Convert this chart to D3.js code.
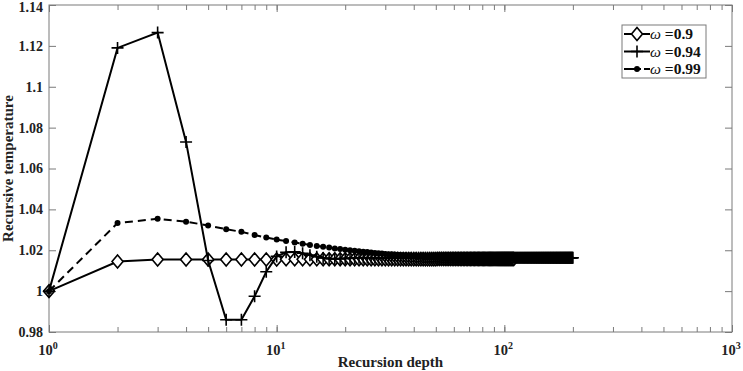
<!DOCTYPE html>
<html>
<head>
<meta charset="utf-8">
<script src="https://cdn.jsdelivr.net/npm/d3@7"></script>
<style>
  body { margin: 0; background: #fff; }
  svg { display: block; font-family: "Liberation Serif", "DejaVu Serif", serif; }
</style>
</head>
<body>
<svg id="chart" width="743" height="371"></svg>
<script>
// recursion depth is index + 1 for every series below
const w090 = [
  1.0000, 1.0145, 1.0155, 1.0155, 1.0155, 1.0155, 1.0155, 1.0155, 1.0155, 1.0155,
  1.0156, 1.0156, 1.0156, 1.0156, 1.0156, 1.0156, 1.0156, 1.0156, 1.0156, 1.0156,
  1.0156, 1.0156, 1.0156, 1.0156, 1.0156, 1.0156, 1.0156, 1.0156, 1.0156, 1.0156,
  1.0156, 1.0156, 1.0156, 1.0156, 1.0156, 1.0156, 1.0156, 1.0156, 1.0156, 1.0156,
  1.0156, 1.0156, 1.0156, 1.0156, 1.0156, 1.0156, 1.0156, 1.0156, 1.0156, 1.0156,
  1.0157, 1.0157, 1.0157, 1.0157, 1.0157, 1.0157, 1.0157, 1.0157, 1.0157, 1.0157,
  1.0157, 1.0157, 1.0157, 1.0157, 1.0157, 1.0157, 1.0157, 1.0157, 1.0157, 1.0157,
  1.0157, 1.0157, 1.0157, 1.0157, 1.0157, 1.0157, 1.0157, 1.0157, 1.0157, 1.0157,
  1.0157, 1.0157, 1.0157, 1.0157, 1.0157, 1.0157, 1.0157, 1.0157, 1.0157, 1.0157,
  1.0157, 1.0157, 1.0157, 1.0157, 1.0157, 1.0157, 1.0157, 1.0157, 1.0157, 1.0157,
  1.0157, 1.0157, 1.0157, 1.0157, 1.0157, 1.0157, 1.0157, 1.0157, 1.0157, 1.0157
];
const w094 = [
  1.0000, 1.1190, 1.1265, 1.0730, 1.0150, 0.9860, 0.9860, 0.9975, 1.0095, 1.0170,
  1.0190, 1.0192, 1.0185, 1.0176, 1.0168, 1.0162, 1.0159, 1.0158, 1.0159, 1.0160,
  1.0161, 1.0162, 1.0163, 1.0163, 1.0163, 1.0163, 1.0163, 1.0163, 1.0163, 1.0163,
  1.0163, 1.0163, 1.0163, 1.0163, 1.0163, 1.0163, 1.0163, 1.0163, 1.0163, 1.0163,
  1.0163, 1.0163, 1.0163, 1.0163, 1.0163, 1.0163, 1.0163, 1.0163, 1.0163, 1.0163,
  1.0163, 1.0163, 1.0163, 1.0163, 1.0163, 1.0163, 1.0163, 1.0163, 1.0163, 1.0163,
  1.0163, 1.0163, 1.0163, 1.0163, 1.0163, 1.0163, 1.0163, 1.0163, 1.0163, 1.0163,
  1.0163, 1.0163, 1.0163, 1.0163, 1.0163, 1.0163, 1.0163, 1.0163, 1.0163, 1.0163,
  1.0163, 1.0163, 1.0163, 1.0163, 1.0163, 1.0163, 1.0163, 1.0163, 1.0163, 1.0163,
  1.0163, 1.0163, 1.0163, 1.0163, 1.0163, 1.0163, 1.0163, 1.0163, 1.0163, 1.0163,
  1.0163, 1.0163, 1.0163, 1.0163, 1.0163, 1.0163, 1.0163, 1.0163, 1.0163, 1.0163,
  1.0163, 1.0163, 1.0163, 1.0163, 1.0163, 1.0163, 1.0163, 1.0163, 1.0163, 1.0163,
  1.0163, 1.0163, 1.0163, 1.0163, 1.0163, 1.0163, 1.0163, 1.0163, 1.0163, 1.0163,
  1.0163, 1.0163, 1.0163, 1.0163, 1.0163, 1.0163, 1.0163, 1.0163, 1.0163, 1.0163,
  1.0163, 1.0163, 1.0163, 1.0163, 1.0163, 1.0163, 1.0163, 1.0163, 1.0163, 1.0163,
  1.0163, 1.0163, 1.0163, 1.0163, 1.0163, 1.0163, 1.0163, 1.0163, 1.0163, 1.0163,
  1.0163, 1.0163, 1.0163, 1.0163, 1.0163, 1.0163, 1.0163, 1.0163, 1.0163, 1.0163,
  1.0163, 1.0163, 1.0163, 1.0163, 1.0163, 1.0163, 1.0163, 1.0163, 1.0163, 1.0163,
  1.0163, 1.0163, 1.0163, 1.0163, 1.0163, 1.0163, 1.0163, 1.0163, 1.0163, 1.0163,
  1.0163, 1.0163, 1.0163, 1.0163, 1.0163, 1.0163, 1.0163, 1.0163, 1.0163, 1.0163
];
const w099 = [
  1.0000, 1.0333, 1.0354, 1.0340, 1.0321, 1.0303, 1.0290, 1.0275, 1.0262, 1.0252,
  1.0245, 1.0238, 1.0232, 1.0226, 1.0221, 1.0217, 1.0213, 1.0209, 1.0206, 1.0203,
  1.0200, 1.0197, 1.0195, 1.0193, 1.0191, 1.0189, 1.0187, 1.0185, 1.0184, 1.0182,
  1.0181, 1.0180, 1.0179, 1.0178, 1.0177, 1.0176, 1.0175, 1.0174, 1.0174, 1.0173,
  1.0172, 1.0172, 1.0171, 1.0171, 1.0170, 1.0170, 1.0169, 1.0169, 1.0169, 1.0168,
  1.0168, 1.0168, 1.0167, 1.0167, 1.0167, 1.0167, 1.0166, 1.0166, 1.0166, 1.0166,
  1.0166, 1.0165, 1.0165, 1.0165, 1.0165, 1.0165, 1.0165, 1.0165, 1.0164, 1.0164,
  1.0164, 1.0164, 1.0164, 1.0164, 1.0164, 1.0164, 1.0164, 1.0164, 1.0164, 1.0164,
  1.0164, 1.0164, 1.0164, 1.0164, 1.0164, 1.0164, 1.0164, 1.0164, 1.0164, 1.0164,
  1.0164, 1.0164, 1.0164, 1.0164, 1.0164, 1.0164, 1.0164, 1.0164, 1.0164, 1.0164,
  1.0164, 1.0164, 1.0164, 1.0164, 1.0164, 1.0164, 1.0164, 1.0164, 1.0164, 1.0164,
  1.0164, 1.0164, 1.0164, 1.0164, 1.0164, 1.0164, 1.0164, 1.0164, 1.0164, 1.0164,
  1.0164, 1.0164, 1.0164, 1.0164, 1.0164, 1.0164, 1.0164, 1.0164, 1.0164, 1.0164,
  1.0164, 1.0164, 1.0164, 1.0164, 1.0164, 1.0164, 1.0164, 1.0164, 1.0164, 1.0164,
  1.0164, 1.0164, 1.0164, 1.0164, 1.0164, 1.0164, 1.0164, 1.0164, 1.0164, 1.0164,
  1.0164, 1.0164, 1.0164, 1.0164, 1.0164, 1.0164, 1.0164, 1.0164, 1.0164, 1.0164,
  1.0164, 1.0164, 1.0164, 1.0164, 1.0164, 1.0164, 1.0164, 1.0164, 1.0164, 1.0164,
  1.0164, 1.0164, 1.0164, 1.0164, 1.0164, 1.0164, 1.0164, 1.0164, 1.0164, 1.0164,
  1.0164, 1.0164, 1.0164, 1.0164, 1.0164, 1.0164, 1.0164, 1.0164, 1.0164, 1.0164,
  1.0164, 1.0164, 1.0164, 1.0164, 1.0164
];
const seriesNames = ["0.9", "0.94", "0.99"];
const yTicks = [0.98, 1, 1.02, 1.04, 1.06, 1.08, 1.1, 1.12, 1.14];
const xDecades = [1, 10, 100, 1000];

const plotL = 49, plotR = 732, plotT = 5, plotB = 332;
const axisColor = "#7a7a7a";

const svg = d3.select("#chart");

const x = d3.scaleLog().domain([1, 1000]).range([plotL, plotR]);
const y = d3.scaleLinear().domain([0.98, 1.14]).range([plotB, plotT]);

const series = [
  { name: seriesNames[0], values: w090, marker: "diamond", dash: null },
  { name: seriesNames[1], values: w094, marker: "plus", dash: null },
  { name: seriesNames[2], values: w099, marker: "dot", dash: "8,5" }
];

// axes box
svg.append("rect")
  .attr("x", plotL).attr("y", plotT)
  .attr("width", plotR - plotL).attr("height", plotB - plotT)
  .attr("fill", "none").attr("stroke", axisColor).attr("stroke-width", 1);

const minorX = x.ticks();

function styleAxis(g) {
  g.select(".domain").remove();
  g.selectAll(".tick line").attr("stroke", axisColor);
}

// bottom + top x ticks (inward)
svg.append("g")
  .attr("transform", `translate(0,${plotB})`)
  .call(d3.axisBottom(x).tickValues(minorX).tickSize(-5).tickFormat(""))
  .call(styleAxis);
svg.append("g")
  .attr("transform", `translate(0,${plotT})`)
  .call(d3.axisTop(x).tickValues(minorX).tickSize(-5).tickFormat(""))
  .call(styleAxis);
svg.append("g")
  .attr("transform", `translate(0,${plotB})`)
  .call(d3.axisBottom(x).tickValues(xDecades).tickSize(-7).tickFormat(""))
  .call(styleAxis);
svg.append("g")
  .attr("transform", `translate(0,${plotT})`)
  .call(d3.axisTop(x).tickValues(xDecades).tickSize(-7).tickFormat(""))
  .call(styleAxis);

// x labels 10^n
const xl = svg.append("g").selectAll("text").data(xDecades).join("text")
  .attr("x", d => x(d) - 1)
  .attr("y", 355)
  .attr("text-anchor", "middle")
  .attr("font-size", 14.5)
  .attr("font-weight", "bold")
  .attr("fill", "#222");
xl.append("tspan").text("10");
xl.append("tspan").attr("dy", -6).attr("font-size", 10).text(d => Math.round(Math.log10(d)));

// y ticks left + right
const fmtY = d => String(+d.toFixed(2));
svg.append("g")
  .attr("transform", `translate(${plotL},0)`)
  .call(d3.axisLeft(y).tickValues(yTicks).tickSize(-7).tickPadding(6).tickFormat(fmtY))
  .call(styleAxis)
  .call(g => g.selectAll("text")
    .attr("font-size", 14).attr("font-weight", "bold")
    .attr("font-family", "Liberation Serif, serif").attr("fill", "#222"))
  .call(g => g.selectAll(".tick text").filter(d => d === 1.14).attr("dy", "0.45em"));
svg.append("g")
  .attr("transform", `translate(${plotR},0)`)
  .call(d3.axisRight(y).tickValues(yTicks).tickSize(-7).tickFormat(""))
  .call(styleAxis);

// axis titles
svg.append("text")
  .attr("x", (plotL + plotR) / 2).attr("y", 367)
  .attr("text-anchor", "middle")
  .attr("font-size", 15).attr("font-weight", "bold").attr("fill", "#222")
  .text("Recursion depth");
svg.append("text")
  .attr("transform", `translate(13,${(plotT + plotB) / 2}) rotate(-90)`)
  .attr("text-anchor", "middle")
  .attr("font-size", 15).attr("font-weight", "bold").attr("fill", "#222")
  .text("Recursive temperature");

const line = d3.line()
  .x((d, i) => x(i + 1))
  .y(d => y(d));

function drawMarker(g, kind) {
  if (kind === "diamond") {
    g.append("path").attr("d", "M0,-6.5L5.5,0L0,6.5L-5.5,0Z")
      .attr("fill", "#fff").attr("stroke", "#000").attr("stroke-width", 1.6);
  } else if (kind === "plus") {
    g.append("path").attr("d", "M-6,0H6M0,-6V6")
      .attr("stroke", "#000").attr("stroke-width", 1.6);
  } else {
    g.append("circle").attr("r", 3).attr("fill", "#000");
  }
}

const plot = svg.append("g");
series.forEach(s => {
  plot.append("path")
    .datum(s.values)
    .attr("d", line)
    .attr("fill", "none")
    .attr("stroke", "#000")
    .attr("stroke-width", 2)
    .attr("stroke-dasharray", s.dash);
  plot.append("g").selectAll("g").data(s.values).join("g")
    .attr("transform", (d, i) => `translate(${x(i + 1)},${y(d)})`)
    .each(function () { drawMarker(d3.select(this), s.marker); });
});

// legend
const lg = svg.append("g");
lg.append("rect")
  .attr("x", 622).attr("y", 25).attr("width", 84).attr("height", 53)
  .attr("fill", "#fff").attr("stroke", axisColor);
series.forEach((s, i) => {
  const cy = 34 + i * 17.5;
  lg.append("line")
    .attr("x1", 624).attr("x2", 650).attr("y1", cy).attr("y2", cy)
    .attr("stroke", "#000").attr("stroke-width", 2)
    .attr("stroke-dasharray", s.dash ? "17,3,6" : null);
  const m = lg.append("g").attr("transform", `translate(637,${cy})`);
  drawMarker(m, s.marker);
  const t = lg.append("text")
    .attr("x", 650).attr("y", cy + 5)
    .attr("font-size", 15.5).attr("fill", "#111");
  t.append("tspan").attr("font-style", "italic").text("\u03c9");
  t.append("tspan").attr("font-weight", "bold").text(" =" + s.name);
});
</script>
</body>
</html>
